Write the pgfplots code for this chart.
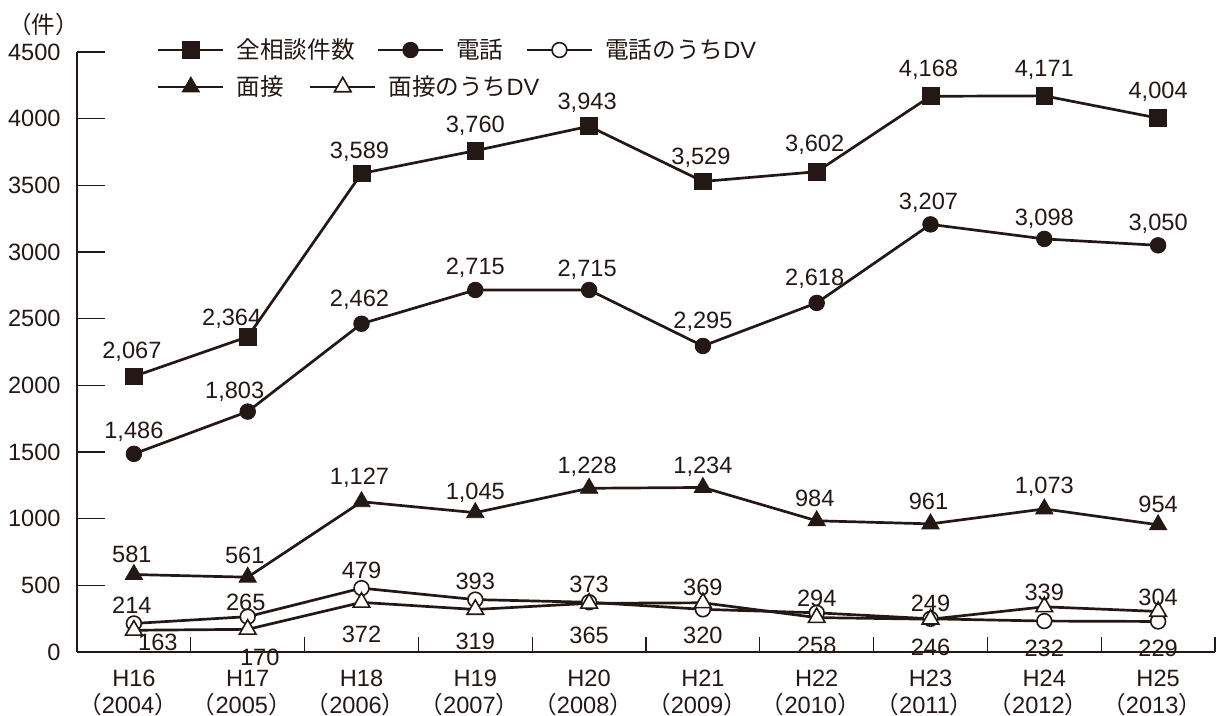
\documentclass[border=0pt]{standalone}
\usepackage{fontspec}
\setmainfont{Liberation Sans}
\newfontfamily\cjk{Noto Sans CJK JP}
\usepackage{pgfplots}
\usepackage{pgfplotstable}
\pgfplotsset{compat=1.18}
\definecolor{ink}{HTML}{231815}
\newcommand\lab{\fontsize{11.8pt}{13.5pt}\selectfont}
\newcommand\lp{\hspace{-0.5em}{\cjk （}}
\newcommand\rp{{\cjk ）}\hspace{-0.5em}}
\tikzset{
  fmk/.style={solid, fill=ink, line width=0.4pt},
  omk/.style={solid, fill=white, line width=0.8pt},
}

\pgfplotstableread{
x y dx dy
0 2067 -1 12.5
1 2364 -8 9
2 3589 -1 11
3 3760 0 12.5
4 3943 -1 11.5
5 3529 -1 12
6 3602 -1 13.5
7 4168 -1 13
8 4171 0 13
9 4004 0 13
}\tabtotal
\pgfplotstableread{
x y dx dy
0 1486 0 11
1 1803 -6.5 10
2 2462 -1 12
3 2715 0 11
4 2715 -1 10
5 2295 0 12
6 2618 -1 12
7 3207 -1 11
8 3098 0 10
9 3050 0 11
}\tabphone
\pgfplotstableread{
x y dx dy
0 214 -1 9
1 265 -1 7
2 479 0 9
3 393 0 9
4 373 0 9
5 320 0 -13
6 294 0 7
7 249 0 7.5
8 232 0 -13.5
9 229 0 -13.5
}\tabphonedv
\pgfplotstableread{
x y dx dy
0 581 -1 10
1 561 -1.5 11
2 1127 -1 12
3 1045 0 10
4 1228 -1 10.5
5 1234 0 10.5
6 984 -1 11
7 961 -1 11
8 1073 0 11
9 954 0 10
}\tabint
\pgfplotstableread{
x y dx dy
0 163 12 -6
1 170 6 -14
2 372 0 -16
3 319 0 -16
4 365 0 -16
5 369 0 7.5
6 258 0 -14
7 246 0 -14
8 339 0 7
9 304 0 7
}\tabintdv

\pgfplotsset{
  /pgf/number format/1000 sep={,},
  /pgf/number format/assume math mode=true,
  ser/.style={color=ink, line width=1.35pt},
  lbl/.style={nodes near coords, point meta=y,
     visualization depends on={\thisrow{dx}\as\dx},
     visualization depends on={\thisrow{dy}\as\dy},
     every node near coord/.append style={font=\lab, text=ink, anchor=center, inner sep=0pt, xshift=\dx pt, yshift=\dy pt}},
  legimg/.style={legend image code/.code={\draw[mark repeat=2,mark phase=2,##1] plot coordinates {(0pt,0pt) (16.25pt,0pt) (32.5pt,0pt)};}},
  legsty/.style={legend columns=-1, legend style={draw=none, fill=none, at={(#1)}, anchor=west, font=\lab, text=ink, inner sep=0pt, outer sep=0pt, nodes={inner sep=0pt}, /tikz/every odd column/.append style={column sep=6pt}, /tikz/every even column/.append style={column sep=11pt}}},
  frame/.style={at={(0pt,0pt)}, anchor=south west, scale only axis, width=569pt, height=300pt},
}

\begin{document}
\begin{tikzpicture}
\useasboundingbox (-38.5pt,-32pt) rectangle (571.5pt,326pt);
\begin{axis}[
  frame,
  xmin=-0.5, xmax=9.5, ymin=0, ymax=4500,
  axis lines=left, axis line style={-, ink, line width=0.6pt},
  clip=false,
  tick align=inside,
  major tick length=7.5pt,
  tick style={ink, line width=0.6pt},
  xtick={0.5,1.5,...,9.5}, xticklabels={},
  ytick=\empty,
  extra y ticks={0,500,...,4500},
  extra y tick labels={0,500,1000,1500,2000,2500,3000,3500,4000,4500},
  extra y tick style={major tick length=14pt},
  extra x ticks={0,1,...,9},
  extra x tick labels={{H16\\\lp 2004\rp},{H17\\\lp 2005\rp},{H18\\\lp 2006\rp},{H19\\\lp 2007\rp},{H20\\\lp 2008\rp},{H21\\\lp 2009\rp},{H22\\\lp 2010\rp},{H23\\\lp 2011\rp},{H24\\\lp 2012\rp},{H25\\\lp 2013\rp}},
  extra x tick style={major tick length=0pt},
  xticklabel style={font=\lab, text=ink, align=center, anchor=north, inner sep=0pt, yshift=-9pt},
  yticklabel style={font=\lab, text=ink, anchor=east, inner sep=0pt, xshift=-8pt},
  legimg,
  legsty={0.0703,1.0033},
]
\addplot[ser, mark=square*, mark size=4.2pt, mark options={fmk}, lbl] table[x=x,y=y]{\tabtotal};
\addlegendentry{{\cjk 全相談件数}}
\addplot[ser, mark=*, mark size=3.9pt, mark options={fmk}, lbl] table[x=x,y=y]{\tabphone};
\addlegendentry{{\cjk 電話}}
\addplot[ser, mark=*, mark size=3.7pt, mark options={omk}, lbl] table[x=x,y=y]{\tabphonedv};
\addlegendentry{{\cjk 電話のうち}DV}
\addplot[ser, mark=triangle*, mark size=5pt, mark options={fmk}, lbl, forget plot] table[x=x,y=y]{\tabint};
\addplot[ser, mark=triangle*, mark size=4.8pt, mark options={omk}, lbl, forget plot] table[x=x,y=y]{\tabintdv};
\end{axis}
\begin{axis}[
  frame, hide axis, xmin=0, xmax=1, ymin=0, ymax=1,
  legimg,
  legsty={0.0703,0.9417},
  legend style={/tikz/every even column/.append style={column sep=12.5pt}},
]
\addlegendimage{ser, mark=triangle*, mark size=5pt, mark options={fmk}}
\addlegendentry{{\cjk 面接}}
\addlegendimage{ser, mark=triangle*, mark size=4.8pt, mark options={omk}}
\addlegendentry{{\cjk 面接のうち}DV}
\end{axis}
\node[font=\lab, text=ink] at (-13.75pt,313.5pt) {\lp{\cjk 件}\rp};
\end{tikzpicture}
\end{document}
